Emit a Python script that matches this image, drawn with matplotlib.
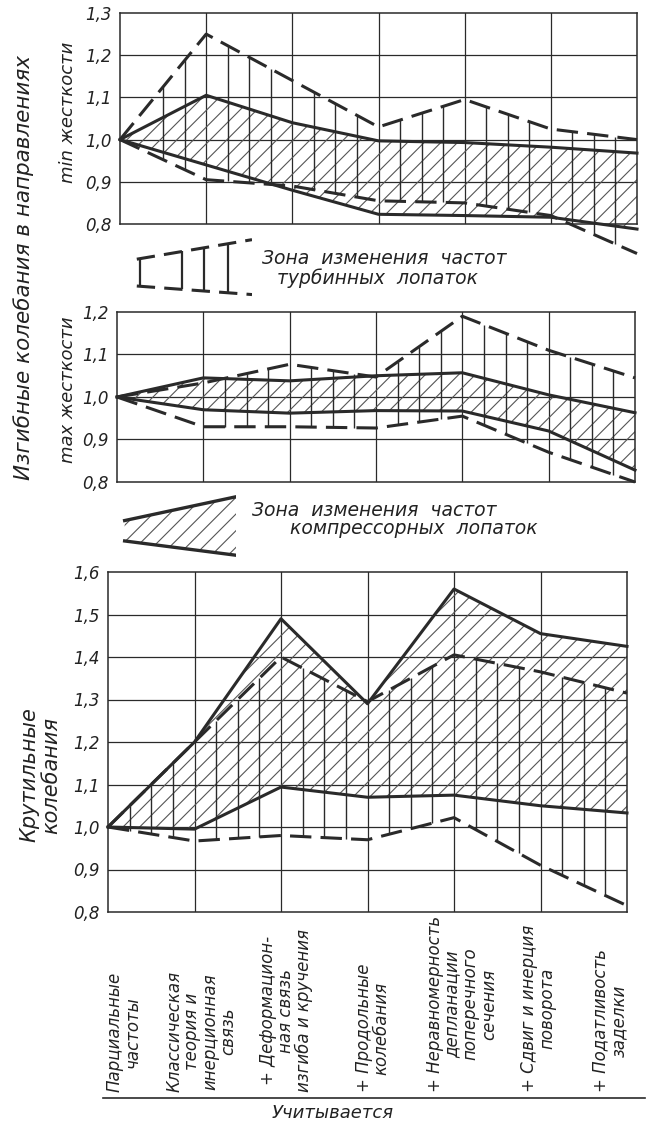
import numpy as np
import matplotlib.pyplot as plt
from matplotlib.lines import Line2D

plt.rcParams['font.family'] = ['DejaVu Sans']
plt.rcParams['font.style'] = 'italic'
plt.rcParams['hatch.linewidth'] = 0.8

# stages of the model (x positions 0..6)
x = np.arange(7)
stage_labels = ["Парциальные\nчастоты",
                "Классическая\nтеория и\nинерционная\nсвязь",
                "+ Деформацион-\nная связь\nизгиба и кручения",
                "+ Продольные\nколебания",
                "+ Неравномерность\nдепланации\nпоперечного\nсечения",
                "+ Сдвиг и инерция\nповорота",
                "+ Податливость\nзаделки"]
label_shift = [0.18, 0.08, 0.06, 0.06, 0.09, -0.03, -0.2]

# bending, direction of min stiffness
turb_min_up = [1.0, 1.25, 1.14, 1.03, 1.095, 1.025, 1.0]
turb_min_lo = [1.0, 0.905, 0.89, 0.855, 0.85, 0.82, 0.73]
comp_min_up = [1.0, 1.105, 1.04, 0.997, 0.993, 0.982, 0.968]
comp_min_lo = [1.0, 0.94, 0.88, 0.823, 0.82, 0.816, 0.788]

# bending, direction of max stiffness
turb_max_up = [1.0, 1.033, 1.077, 1.047, 1.19, 1.11, 1.045]
turb_max_lo = [1.0, 0.93, 0.93, 0.927, 0.955, 0.87, 0.80]
comp_max_up = [1.0, 1.045, 1.038, 1.05, 1.057, 1.005, 0.963]
comp_max_lo = [1.0, 0.97, 0.962, 0.968, 0.967, 0.92, 0.828]

# torsion
turb_tor_up = [1.0, 1.2, 1.40, 1.295, 1.405, 1.365, 1.315]
turb_tor_lo = [1.0, 0.967, 0.98, 0.97, 1.022, 0.91, 0.815]
comp_tor_up = [1.0, 1.2, 1.49, 1.29, 1.56, 1.455, 1.425]
comp_tor_lo = [1.0, 0.995, 1.094, 1.07, 1.075, 1.05, 1.033]

ticks_min = [0.8, 0.9, 1.0, 1.1, 1.2, 1.3]
ticks_max = [0.8, 0.9, 1.0, 1.1, 1.2]
ticks_tor = [0.8, 0.9, 1.0, 1.1, 1.2, 1.3, 1.4, 1.5, 1.6]

W, H = 649, 1130
ink = '#2a2a2a'
fig = plt.figure(figsize=(W / 100, H / 100), dpi=100)
fig.patch.set_facecolor('white')


def rect(l, r, t, b):
    return [l / W, 1 - b / H, (r - l) / W, (b - t) / H]


def panel(r, ticks, t_up, t_lo, c_up, c_lo, vstart):
    ax = fig.add_axes(r)
    ax.set_xlim(0, 6)
    ax.set_ylim(ticks[0], ticks[-1])
    ax.set_xticks([])
    ax.set_yticks(ticks)
    ax.set_yticklabels([('%.1f' % t).replace('.', ',') for t in ticks], fontsize=12)
    ax.tick_params(length=0, pad=6, colors='#222')
    for s in ax.spines.values():
        s.set_color(ink)
        s.set_linewidth(1.1)
    for t in ticks[1:-1]:
        ax.axhline(t, color=ink, lw=0.9, zorder=1)
    for xi in x[1:-1]:
        ax.axvline(xi, color=ink, lw=0.9, zorder=1)
    # compressor zone: hatched band between solid lines
    ax.fill_between(x, c_lo, c_up, facecolor='none', edgecolor='#555555',
                    hatch='//', linewidth=0, zorder=2, clip_on=False)
    ax.plot(x, c_up, color=ink, lw=2.2, zorder=4, clip_on=False)
    ax.plot(x, c_lo, color=ink, lw=2.2, zorder=4, clip_on=False)
    # turbine zone: vertical strokes between dashed lines
    xv = np.arange(vstart, 6, 0.25)
    xv = xv[np.abs(xv - np.round(xv)) > 1e-6]
    ax.vlines(xv, np.interp(xv, x, t_lo), np.interp(xv, x, t_up),
              color=ink, lw=1.0, zorder=3, clip_on=False)
    ax.plot(x, t_up, color=ink, lw=2.2, dashes=(7, 3), zorder=4, clip_on=False)
    ax.plot(x, t_lo, color=ink, lw=2.2, dashes=(7, 3), zorder=4, clip_on=False)
    return ax


ax1 = panel(rect(120, 637, 13, 224), ticks_min, turb_min_up, turb_min_lo,
            comp_min_up, comp_min_lo, 0.5)
ax2 = panel(rect(117, 635, 312, 482), ticks_max, turb_max_up, turb_max_lo,
            comp_max_up, comp_max_lo, 1.25)
ax3 = panel(rect(108, 627, 572, 912), ticks_tor, turb_tor_up, turb_tor_lo,
            comp_tor_up, comp_tor_lo, 0.25)

# stage labels under the torsion panel
for xi, dx, lab in zip(x, label_shift, stage_labels):
    ax3.text(xi + dx, -0.53, lab, rotation=90, ha='center', va='bottom',
             multialignment='center', fontsize=12, linespacing=1.0,
             transform=ax3.get_xaxis_transform(), color='#222')

fig.add_artist(Line2D([103 / W, 645 / W], [1 - 1098 / H, 1 - 1098 / H],
                      color=ink, lw=1.2))
fig.text(333 / W, 1 - 1113 / H, "Учитывается", ha='center', va='center',
         fontsize=13, color='#222')

# axis titles on the left
fig.text(24 / W, 1 - 268 / H, "Изгибные колебания в направлениях", rotation=90,
         ha='center', va='center', fontsize=15.5, color='#222')
fig.text(68 / W, 1 - 112 / H, "min жесткости", rotation=90,
         ha='center', va='center', fontsize=13, color='#222')
fig.text(68 / W, 1 - 390 / H, "max жесткости", rotation=90,
         ha='center', va='center', fontsize=13, color='#222')
fig.text(40 / W, 1 - 775 / H, "Крутильные\nколебания", rotation=90,
         ha='center', va='center', fontsize=15, color='#222', linespacing=1.1)

# legend: turbine blades
lg1 = fig.add_axes(rect(132, 252, 236, 297))
lg1.set_xlim(0, 1)
lg1.set_ylim(0, 1)
lg1.axis('off')
leg_x = [0.04, 1.0]
leg1_up = [0.62, 0.94]
leg1_lo = [0.18, 0.04]
lg1.plot(leg_x, leg1_up, color=ink, lw=2.2, dashes=(6, 3))
lg1.plot(leg_x, leg1_lo, color=ink, lw=2.2, dashes=(6, 3))
vx = np.array([0.07, 0.42, 0.6, 0.8])
lg1.vlines(vx, np.interp(vx, leg_x, leg1_lo), np.interp(vx, leg_x, leg1_up),
           color=ink, lw=1.6)
fig.text(262 / W, 1 - 258 / H, "Зона  изменения  частот", fontsize=13.5,
         va='center', color='#222')
fig.text(277 / W, 1 - 278 / H, "турбинных  лопаток", fontsize=13.5,
         va='center', color='#222')

# legend: compressor blades
lg2 = fig.add_axes(rect(120, 236, 492, 560))
lg2.set_xlim(0, 1)
lg2.set_ylim(0, 1)
lg2.axis('off')
leg2_up = [0.58, 0.93]
leg2_lo = [0.28, 0.07]
lg2.fill_between(leg_x, leg2_lo, leg2_up, facecolor='none', edgecolor='#555555',
                 hatch='//', linewidth=0)
lg2.plot(leg_x, leg2_up, color=ink, lw=2.4)
lg2.plot(leg_x, leg2_lo, color=ink, lw=2.4)
fig.text(252 / W, 1 - 510 / H, "Зона  изменения  частот", fontsize=13.5,
         va='center', color='#222')
fig.text(290 / W, 1 - 529 / H, "компрессорных  лопаток", fontsize=13.5,
         va='center', color='#222')

fig.savefig('out.png', dpi=100, facecolor='white')
